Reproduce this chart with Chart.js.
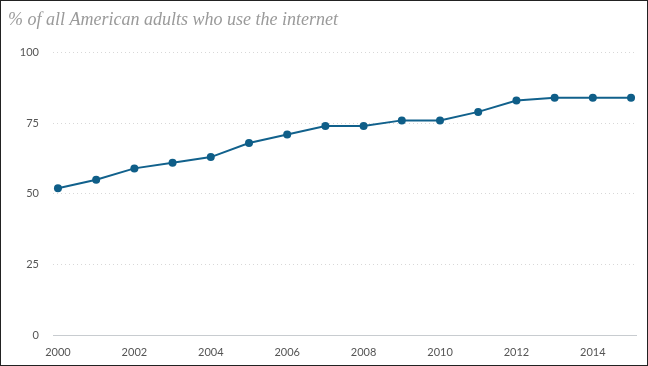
<!DOCTYPE html>
<html><head><meta charset="utf-8">
<script src="https://cdn.jsdelivr.net/npm/chart.js@4/dist/chart.umd.min.js"></script>
<style>
html,body{margin:0;padding:0;background:#fff;}
#wrap{position:relative;width:646px;height:364px;border:1px solid #222;}
canvas{display:block;}
</style></head><body>
<div id="wrap"><canvas id="c" width="646" height="364"></canvas></div>
<script>
const years = [2000,2001,2002,2003,2004,2005,2006,2007,2008,2009,2010,2011,2012,2013,2014,2015];
const internetUse = [52,55,59,61,63,68,71,74,74,76,76,79,83,84,84,84];
const yTicks = [0,25,50,75,100];
const xTicks = [2000,2002,2004,2006,2008,2010,2012,2014];
const titleText = '% of all American adults who use the internet';

const pts = years.map((y,i)=>({x:y,y:internetUse[i]}));
new Chart(document.getElementById('c'),{
  type:'line',
  data:{datasets:[{data:pts,borderColor:'#11618c',backgroundColor:'#11618c',borderWidth:2,
    pointRadius:4,pointHoverRadius:4,pointBackgroundColor:'#0f5e88',pointBorderWidth:0,tension:0,clip:false}]},
  options:{responsive:false,animation:false,
    layout:{padding:{left:7,right:11,top:0,bottom:0}},
    plugins:{legend:{display:false},tooltip:{enabled:false},
      title:{display:true,text:titleText,align:'start',color:'#9a9a9a',
        font:{family:'Liberation Serif',style:'italic',size:18,weight:'normal'},
        padding:{top:8,bottom:22}}},
    scales:{
      x:{type:'linear',min:1999.87,max:2015.13,
        afterBuildTicks:s=>{s.ticks=xTicks.map(v=>({value:v}));},
        afterFit:s=>{s.height=30;},
        ticks:{color:'#555',font:{family:'Lato',size:11},padding:11,maxRotation:0,
          callback:v=>String(v)},
        grid:{display:false,drawTicks:false},
        border:{display:true,color:'#c8ccd0',width:1}},
      y:{min:0,max:100,
        afterBuildTicks:s=>{s.ticks=yTicks.map(v=>({value:v}));},
        afterFit:s=>{s.width=45;},
        ticks:{color:'#555',font:{family:'Lato',size:11},padding:14},
        grid:{color:'#d8d8d8',lineWidth:1,drawTicks:false},
        border:{display:false,dash:[1,3]}}
    }}
});
</script></body></html>
